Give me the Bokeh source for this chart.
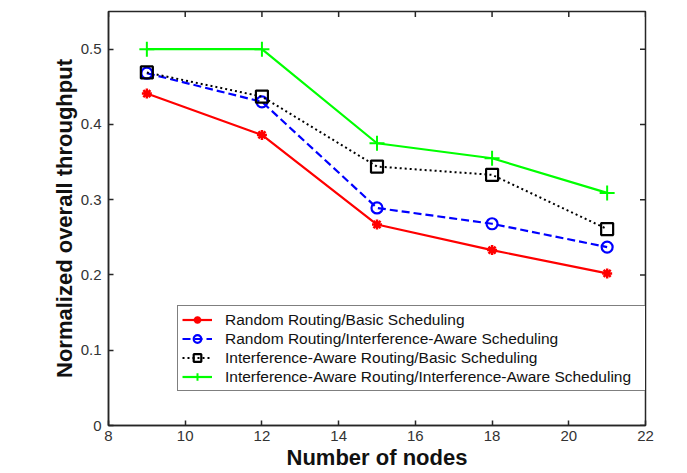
import math
from bokeh.plotting import figure
from bokeh.models import FixedTicker, CustomJSTickFormatter
from bokeh.embed import file_html
from bokeh.resources import INLINE

# ---- data ----
nodes = [9, 12, 15, 18, 21]
rr_basic = [0.441, 0.386, 0.267, 0.233, 0.202]
rr_ia = [0.468, 0.430, 0.289, 0.268, 0.237]
iar_basic = [0.469, 0.437, 0.344, 0.333, 0.261]
iar_ia = [0.500, 0.500, 0.375, 0.355, 0.309]
labels = [
    "Random Routing/Basic Scheduling",
    "Random Routing/Interference-Aware Scheduling",
    "Interference-Aware Routing/Basic Scheduling",
    "Interference-Aware Routing/Interference-Aware Scheduling",
]
x_ticks = [8, 10, 12, 14, 16, 18, 20, 22]
y_ticks = [0, 0.1, 0.2, 0.3, 0.4, 0.5]
x_min, x_max = 8, 22
y_min, y_max = 0, 0.55

FONT = "Liberation Sans"
AX = "#262626"

p = figure(width=686, height=472, x_range=(x_min, x_max), y_range=(y_min, y_max),
           output_backend="svg", toolbar_location=None,
           min_border_left=108, min_border_right=41,
           min_border_top=11, min_border_bottom=47)
p.grid.visible = False
p.outline_line_color = AX
p.outline_line_width = 1.5
p.background_fill_color = "white"
p.border_fill_color = "white"

# series
p.line(nodes, rr_basic, color="#ff0000", line_width=2.2, legend_label=labels[0])
p.scatter(nodes, rr_basic, marker="asterisk", size=10, line_color="#ff0000",
          line_width=2.5, legend_label=labels[0])

p.line(nodes, rr_ia, color="#0000ff", line_width=2.2, line_dash="8 4", legend_label=labels[1])
p.scatter(nodes, rr_ia, marker="circle", size=11, line_color="#0000ff", fill_color=None,
          line_width=2.2, legend_label=labels[1])

p.line(nodes, iar_basic, color="#000000", line_width=2, line_dash="2 3", legend_label=labels[2])
p.scatter(nodes, iar_basic, marker="square", size=12, line_color="#000000", fill_color=None,
          line_width=2.2, legend_label=labels[2])

p.line(nodes, iar_ia, color="#00ff00", line_width=2.2, legend_label=labels[3])
p.scatter(nodes, iar_ia, marker="cross", size=15, line_color="#00ff00",
          line_width=2, legend_label=labels[3])

# mirrored inward ticks on top and right edges (outer half of each dash is clipped by the frame)
p.scatter(x_ticks, [y_max] * len(x_ticks), marker="dash", angle=math.pi / 2, size=11,
          line_color=AX, line_width=1.5)
p.scatter([x_max] * len(y_ticks), y_ticks, marker="dash", size=11,
          line_color=AX, line_width=1.5)

# axes
def style_axis(ax):
    ax.axis_line_color = AX
    ax.axis_line_width = 1.5
    ax.major_tick_line_color = AX
    ax.major_tick_line_width = 1.5
    ax.major_tick_in = 5
    ax.major_tick_out = 0
    ax.minor_tick_line_color = None
    ax.major_label_text_font = FONT
    ax.major_label_text_font_size = "15px"
    ax.major_label_text_color = "#333333"
    ax.axis_label_text_font = FONT
    ax.axis_label_text_font_size = "22px"
    ax.axis_label_text_font_style = "bold"
    ax.axis_label_text_color = "#111111"

xa = p.xaxis[0]
xa.ticker = FixedTicker(ticks=x_ticks)
style_axis(xa)
xa.major_label_standoff = 5
xa.axis_label = "Number of nodes"
xa.axis_label_standoff = 1

ya = p.yaxis[0]
ya.ticker = FixedTicker(ticks=y_ticks)
ya.formatter = CustomJSTickFormatter(code="return tick == 0 ? '0' : tick.toFixed(1);")
style_axis(ya)
ya.major_label_standoff = 7
ya.axis_label = "Normalized overall throughput"
ya.axis_label_standoff = 1

# legend
lg = p.legend[0]
lg.location = (69, 34)
lg.padding = 4
lg.spacing = 0
lg.margin = 0
lg.glyph_width = 30
lg.glyph_height = 19
lg.label_height = 19
lg.label_width = 425
lg.label_standoff = 13
lg.label_text_font = FONT
lg.label_text_font_size = "15.5px"
lg.label_text_color = "#111111"
lg.border_line_color = "#000000"
lg.border_line_width = 1
lg.background_fill_color = "white"
lg.background_fill_alpha = 1

open("out.html", "w").write(file_html(p, INLINE))
